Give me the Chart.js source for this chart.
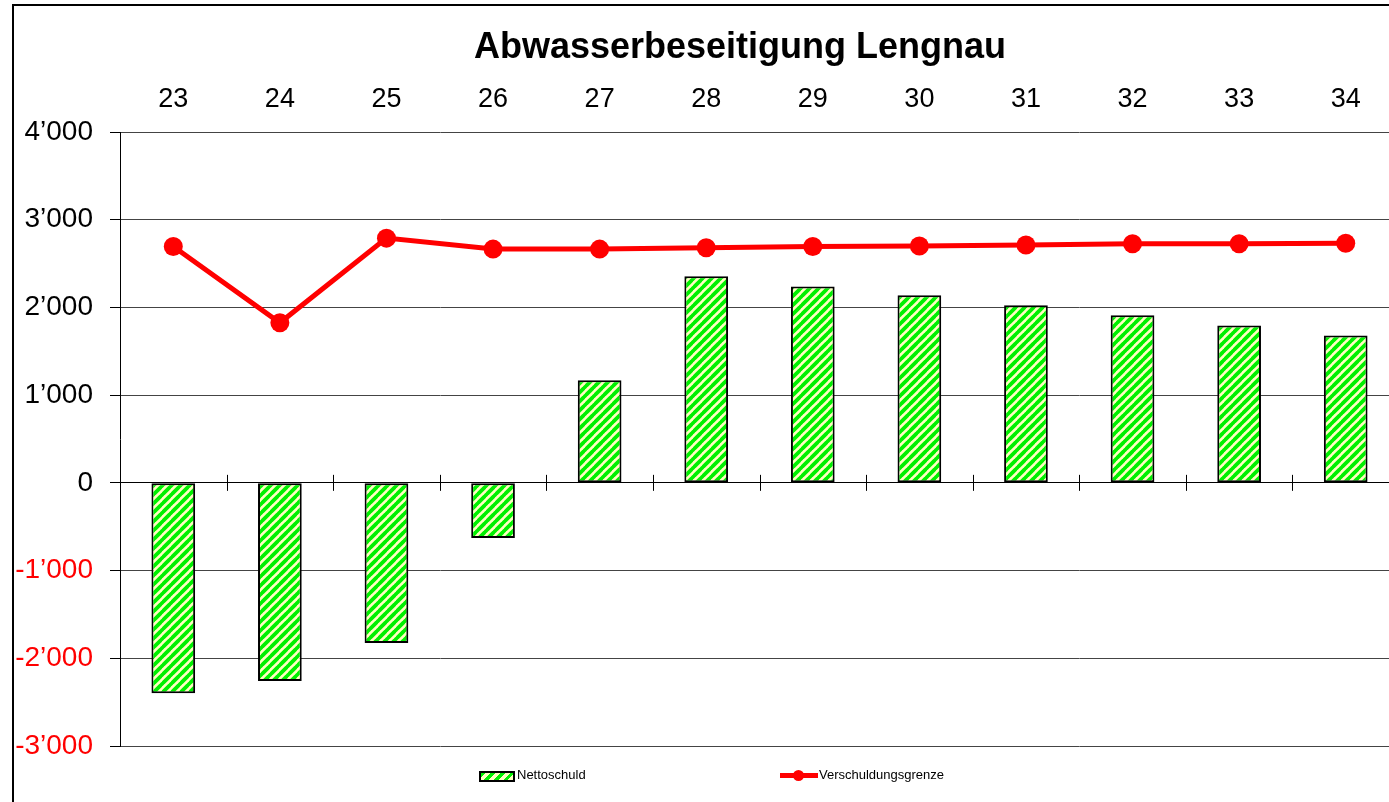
<!DOCTYPE html>
<html>
<head>
<meta charset="utf-8">
<script src="https://cdn.jsdelivr.net/npm/chart.js@4"></script>
<style>
  html, body { margin: 0; padding: 0; background: #fff; overflow: hidden; }
  #wrap { position: relative; width: 1480px; height: 802px; }
  #frame { position: absolute; left: 12px; top: 4px; width: 2000px; height: 2000px;
           border-left: 2px solid #000; border-top: 2px solid #000; pointer-events: none; }
  .lg { position: absolute; font: 13px "Liberation Sans", Arial, sans-serif; color: #000; }
  #sw1 { position: absolute; left: 479px; top: 771px; width: 32px; height: 7px; border: 2px solid #000;
         background: repeating-linear-gradient(135deg, #00f000 0 3px, #ffffc0 3px 7px); }
  #sw2 { position: absolute; left: 780px; top: 773px; width: 38px; height: 5px; background: #ff0000; }
  #dot { position: absolute; left: 793px; top: 770px; width: 11px; height: 11px; border-radius: 50%; background: #ff0000; }
</style>
</head>
<body>
<div id="wrap">
  <canvas id="graph" width="1480" height="802"></canvas>
  <div id="frame"></div>
  <div id="sw1"></div>
  <div class="lg" style="left:517px; top:767px;">Nettoschuld</div>
  <div id="sw2"></div>
  <div id="dot"></div>
  <div class="lg" style="left:819px; top:767px;">Verschuldungsgrenze</div>
</div>
<script>
const TITLE = "Abwasserbeseitigung Lengnau";
const years = ["23", "24", "25", "26", "27", "28", "29", "30", "31", "32", "33", "34"];
const nettoschuld = [-2400, -2260, -1825, -630, 1170, 2355, 2240, 2140, 2025, 1910, 1795, 1680];
const grenze = [2695, 1825, 2790, 2665, 2665, 2680, 2695, 2700, 2712, 2727, 2727, 2732];
const FONT = "'Liberation Sans', Arial, sans-serif";

const ctx = document.getElementById("graph");

const stripes = () => {
    const c = document.createElement("canvas");
    c.width = 9;
    c.height = 9;
    const g = c.getContext("2d");
    g.fillStyle = "#ffffc0";
    g.fillRect(0, 0, 9, 9);
    g.strokeStyle = "#00f000";
    g.lineWidth = 3.8;
    g.beginPath();
    g.moveTo(-1, 10); g.lineTo(10, -1);
    g.moveTo(-1, 1); g.lineTo(1, -1);
    g.moveTo(8, 10); g.lineTo(10, 8);
    g.stroke();
    return g.createPattern(c, "repeat");
};

const fmt = (v) => {
    const s = Math.abs(v).toString().replace(/\B(?=(\d{3})+(?!\d))/g, "\u2019");
    return (v < 0 ? "-" : "") + s;
};

// little marks on the zero line between the categories
const zeroTicks = {
    id: "zeroTicks",
    beforeDatasetsDraw(chart) {
        const x = chart.scales.x;
        const y0 = chart.scales.y.getPixelForValue(0);
        const g = chart.ctx;
        g.save();
        g.strokeStyle = "#000";
        g.lineWidth = 1;
        for (let i = 0; i <= years.length; i++) {
            const px = Math.round(x.getPixelForValue(i - 0.5)) + 0.5;
            g.beginPath();
            g.moveTo(px, y0 - 8);
            g.lineTo(px, y0 + 8);
            g.stroke();
        }
        g.restore();
    },
};

new Chart(ctx, {
    type: "bar",
    data: {
        labels: years,
        datasets: [
            {
                type: "line",
                label: "Verschuldungsgrenze",
                data: grenze,
                borderColor: "#ff0000",
                backgroundColor: "#ff0000",
                borderWidth: 5,
                pointRadius: 9.5,
                pointBorderWidth: 0,
                tension: 0,
                order: 0,
            },
            {
                label: "Nettoschuld",
                data: nettoschuld,
                backgroundColor: stripes(),
                borderColor: "#000",
                borderWidth: 2,
                borderSkipped: false,
                barPercentage: 0.41,
                categoryPercentage: 1,
                order: 1,
            },
        ],
    },
    options: {
        responsive: false,
        animation: false,
        layout: { padding: { left: 0, top: 0, right: 0, bottom: 56 } },
        plugins: {
            legend: { display: false },
            tooltip: { enabled: false },
            title: {
                display: true,
                text: TITLE,
                color: "#000",
                font: { family: FONT, size: 36, weight: "bold" },
                padding: { top: 26, bottom: 0 },
            },
        },
        scales: {
            x: {
                position: "top",
                offset: true,
                grid: { display: false },
                border: { display: false },
                ticks: {
                    color: "#000",
                    padding: 8,
                    font: { family: FONT, size: 27 },
                },
                afterFit: (s) => { s.height = 132 - 69.2; },
            },
            y: {
                min: -3000,
                max: 4000,
                grid: {
                    color: (c) => (c.tick && c.tick.value === 0 ? "#000" : "#444"),
                    tickLength: 10,
                    tickColor: "#000",
                },
                border: { display: true, color: "#000", width: 1 },
                ticks: {
                    stepSize: 1000,
                    padding: 17,
                    font: { family: FONT, size: 28 },
                    color: (c) => (c.tick.value < 0 ? "#ff0000" : "#000"),
                    callback: (v) => fmt(v),
                },
                afterFit: (s) => { s.width = 120; },
            },
            // empty axis on the right, only to leave the space the plot runs past the window
            yr: {
                type: "linear",
                position: "right",
                grid: { display: false },
                border: { display: false },
                ticks: { display: false },
                afterFit: (s) => { s.width = 81; },
            },
        },
    },
    plugins: [zeroTicks],
});
</script>
</body>
</html>
